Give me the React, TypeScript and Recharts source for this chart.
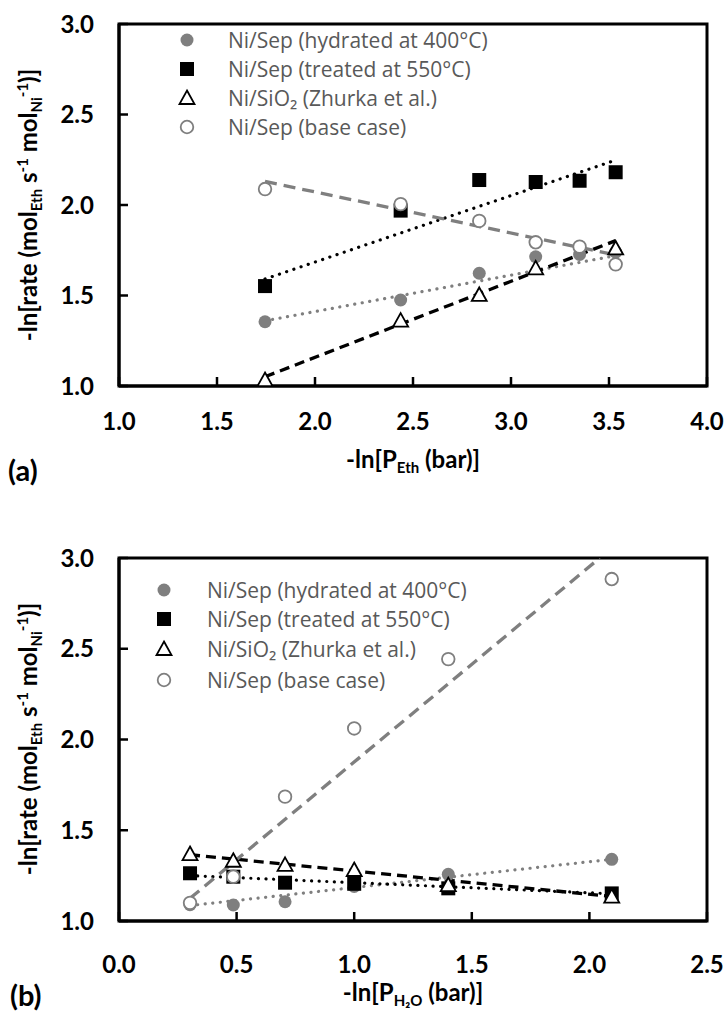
import React from 'react';
import { ComposedChart, Scatter, Line, XAxis, YAxis, ReferenceArea } from 'recharts';

const GRAY = '#7f7f7f';
const LEGEND_GRAY = '#595959';
const BOLD_FONT = 'Lato, "Open Sans", sans-serif';
const LEGEND_FONT = '"Open Sans", "Noto Sans", sans-serif';

const seriesNames = [
  'Ni/Sep (hydrated at 400°C)',
  'Ni/Sep (treated at 550°C)',
  'Ni/SiO₂ (Zhurka et al.)',
  'Ni/Sep (base case)',
];

const yTicks = [1.0, 1.5, 2.0, 2.5, 3.0];
const ethTicks = [1.0, 1.5, 2.0, 2.5, 3.0, 3.5, 4.0];
const waterTicks = [0.0, 0.5, 1.0, 1.5, 2.0, 2.5];

// ---------- Panel (a): -ln[P_Eth] ----------
const ethX = [1.745, 2.437, 2.838, 3.126, 3.35, 3.534];
const aHydrated = [1.355, 1.475, 1.623, 1.714, 1.727, 1.74];
const aTreated = [1.552, 1.969, 2.138, 2.127, 2.134, 2.181];
const aZhurkaX = [1.745, 2.437, 2.838, 3.126, 3.534];
const aZhurka = [1.033, 1.361, 1.503, 1.65, 1.76];
const aBase = [2.088, 2.005, 1.912, 1.794, 1.77, 1.672];
// trend line end points
const aTrendX = [1.745, 3.534];
const aHydratedTrend = [1.36, 1.72];
const aTreatedTrend = [1.591, 2.248];
const aZhurkaTrend = [1.051, 1.803];
const aBaseTrend = [2.13, 1.724];

// ---------- Panel (b): -ln[P_H2O] ----------
const waterX = [0.302, 0.486, 0.706, 1.0, 1.4, 2.095];
const bHydrated = [1.09, 1.088, 1.106, 1.19, 1.257, 1.34];
const bTreated = [1.263, 1.244, 1.211, 1.205, 1.18, 1.152];
const bZhurka = [1.369, 1.332, 1.309, 1.281, 1.198, 1.134];
const bBase = [1.1, 1.244, 1.685, 2.061, 2.443, 2.884];
const bTrendX = [0.302, 2.095];
const bHydratedTrend = [1.085, 1.34];
const bTreatedTrend = [1.25, 1.15];
const bZhurkaTrend = [1.365, 1.135];
const bBaseTrendX = [0.302, 2.044];
const bBaseTrend = [1.125, 3.0];

const zip = (xs: number[], ys: number[]) => xs.map((x, i) => ({ x, y: ys[i] }));

const GrayDot = (p: any) => <circle cx={p.cx} cy={p.cy} r={6.5} fill={GRAY} />;
const BlackSquare = (p: any) => (
  <rect x={p.cx - 7} y={p.cy - 7} width={14} height={14} fill="#000" />
);
const OpenTriangle = (p: any) => (
  <path
    d={`M${p.cx},${p.cy - 7.5} L${p.cx + 7.5},${p.cy + 6} L${p.cx - 7.5},${p.cy + 6} Z`}
    fill="#fff"
    stroke="#000"
    strokeWidth={1.8}
  />
);
const OpenCircle = (p: any) => (
  <circle cx={p.cx} cy={p.cy} r={6.3} fill="#fff" stroke={GRAY} strokeWidth={1.8} />
);
const markers = [GrayDot, BlackSquare, OpenTriangle, OpenCircle];

const TICK_FS = 24;
const TICK_LEN = 9;

// A negative tickSize makes the tick lines point into the plot; the tick
// text anchor then sits TICK_LEN inside, so the labels are shifted back out.
const XTick = (p: any) => {
  const { x, y, payload, labelDy } = p;
  return (
    <text
      x={x}
      y={y + TICK_LEN + labelDy}
      textAnchor="middle"
      fontFamily={BOLD_FONT}
      fontWeight={700}
      fontSize={TICK_FS}
      fill="#000"
    >
      {Number(payload.value).toFixed(1)}
    </text>
  );
};

const YTick = (p: any) => {
  const { x, y, payload } = p;
  return (
    <text
      x={x - TICK_LEN - 25}
      y={y + 8.5}
      textAnchor="end"
      fontFamily={BOLD_FONT}
      fontWeight={700}
      fontSize={TICK_FS}
      fill="#000"
    >
      {Number(payload.value).toFixed(1)}
    </text>
  );
};

type PanelProps = {
  top: number;
  height: number;
  plotTop: number;
  xAxisHeight: number;
  xDomain: [number, number];
  xTicks: number[];
  labelDy: number;
  points: { x: number; y: number }[][];
  trends: { x: number; y: number }[][];
};

const trendStyles = [
  { stroke: GRAY, strokeWidth: 3.2, strokeDasharray: '0.1 7.5', strokeLinecap: 'round' as const },
  { stroke: '#000', strokeWidth: 3.2, strokeDasharray: '0.1 7.5', strokeLinecap: 'round' as const },
  { stroke: '#000', strokeWidth: 3.3, strokeDasharray: '10 6', strokeLinecap: 'butt' as const },
  { stroke: GRAY, strokeWidth: 3.3, strokeDasharray: '12 7', strokeLinecap: 'butt' as const },
];

function Panel(props: PanelProps) {
  const { top, height, plotTop, xAxisHeight, xDomain, xTicks, labelDy, points, trends } = props;
  return (
    <div style={{ position: 'absolute', left: 0, top, width: 726, height }}>
      <ComposedChart
        width={726}
        height={height}
        margin={{ top: plotTop, right: 19, bottom: 0, left: 0 }}
      >
        <ReferenceArea
          x1={xDomain[0]}
          x2={xDomain[1]}
          y1={1}
          y2={3}
          fill="none"
          fillOpacity={0}
          stroke="#000"
          strokeWidth={3}
        />
        <XAxis
          type="number"
          dataKey="x"
          domain={xDomain}
          ticks={xTicks}
          interval={0}
          allowDataOverflow
          height={xAxisHeight}
          tickLine={{ stroke: '#000', strokeWidth: 2.5 }}
          tickSize={-TICK_LEN}
          tickMargin={0}
          axisLine={{ stroke: '#000', strokeWidth: 3 }}
          tick={(p: any) => <XTick {...p} labelDy={labelDy} />}
        />
        <YAxis
          type="number"
          dataKey="y"
          domain={[1, 3]}
          ticks={yTicks}
          interval={0}
          allowDataOverflow
          width={119}
          tickLine={{ stroke: '#000', strokeWidth: 2.5 }}
          tickSize={-TICK_LEN}
          tickMargin={0}
          axisLine={{ stroke: '#000', strokeWidth: 3 }}
          tick={(p: any) => <YTick {...p} />}
        />
        {points.map((pts, i) => (
          <Scatter
            key={`s${i}`}
            data={pts}
            shape={markers[i]}
            isAnimationActive={false}
            legendType="none"
          />
        ))}
        {trends.map((t, i) => (
          <Line
            key={`l${i}`}
            data={t}
            dataKey="y"
            type="linear"
            dot={false}
            activeDot={false}
            isAnimationActive={false}
            legendType="none"
            {...trendStyles[i]}
          />
        ))}
      </ComposedChart>
    </div>
  );
}

function YTitle({ cx, cy }: { cx: number; cy: number }) {
  return (
    <text
      transform={`rotate(-90 ${cx} ${cy})`}
      x={cx}
      y={cy + 8.5}
      textAnchor="middle"
      fontFamily={BOLD_FONT}
      fontWeight={700}
      fontSize={24}
      fill="#000"
    >
      -ln[rate (mol
      <tspan dy={5} fontSize={15}>Eth</tspan>
      <tspan dy={-5}> s</tspan>
      <tspan dy={-9} fontSize={15}>-1</tspan>
      <tspan dy={9}> mol</tspan>
      <tspan dy={5} fontSize={15}>Ni</tspan>
      <tspan dy={-14} fontSize={15}>-1</tspan>
      <tspan dy={9}>)]</tspan>
    </text>
  );
}

function LegendBlock({ mx, tx, rows }: { mx: number; tx: number; rows: number[] }) {
  return (
    <g>
      {rows.map((ry, i) => {
        const M = markers[i];
        return (
          <g key={i}>
            <M cx={mx} cy={ry} />
            <text
              x={tx}
              y={ry + 7.5}
              fontFamily={LEGEND_FONT}
              fontSize={21}
              fill={LEGEND_GRAY}
            >
              {seriesNames[i]}
            </text>
          </g>
        );
      })}
    </g>
  );
}

function Overlay() {
  const boldText = { fontFamily: BOLD_FONT, fontWeight: 700, fill: '#000' };
  return (
    <svg
      width={726}
      height={1012}
      style={{ position: 'absolute', left: 0, top: 0, pointerEvents: 'none' }}
    >
      <YTitle cx={28} cy={205} />
      <YTitle cx={28} cy={739} />
      <text x={413} y={468} textAnchor="middle" fontSize={24} {...boldText}>
        -ln[P
        <tspan dy={5} fontSize={15}>Eth</tspan>
        <tspan dy={-5}> (bar)]</tspan>
      </text>
      <text x={413} y={1001} textAnchor="middle" fontSize={24} {...boldText}>
        -ln[P
        <tspan dy={5} fontSize={15}>H₂O</tspan>
        <tspan dy={-5}> (bar)]</tspan>
      </text>
      <text x={8} y={481} fontSize={29} {...boldText}>(a)</text>
      <text x={10} y={1006} fontSize={29} {...boldText}>(b)</text>
      <LegendBlock mx={187} tx={228} rows={[40, 69, 98, 127]} />
      <LegendBlock mx={164} tx={207} rows={[590, 619, 649, 680]} />
    </svg>
  );
}

export default function App() {
  const aPoints = [
    zip(ethX, aHydrated),
    zip(ethX, aTreated),
    zip(aZhurkaX, aZhurka),
    zip(ethX, aBase),
  ];
  const aTrends = [
    zip(aTrendX, aHydratedTrend),
    zip(aTrendX, aTreatedTrend),
    zip(aTrendX, aZhurkaTrend),
    zip(aTrendX, aBaseTrend),
  ];
  const bPoints = [
    zip(waterX, bHydrated),
    zip(waterX, bTreated),
    zip(waterX, bZhurka),
    zip(waterX, bBase),
  ];
  const bTrends = [
    zip(bTrendX, bHydratedTrend),
    zip(bTrendX, bTreatedTrend),
    zip(bTrendX, bZhurkaTrend),
    zip(bBaseTrendX, bBaseTrend),
  ];
  return (
    <div
      style={{
        position: 'absolute',
        left: 0,
        top: 0,
        width: 726,
        height: 1012,
        background: '#fff',
        overflow: 'hidden',
      }}
    >
      <Panel
        top={0}
        height={500}
        plotTop={24}
        xAxisHeight={114}
        xDomain={[1, 4]}
        xTicks={ethTicks}
        labelDy={44}
        points={aPoints}
        trends={aTrends}
      />
      <Panel
        top={500}
        height={512}
        plotTop={58}
        xAxisHeight={91}
        xDomain={[0, 2.5]}
        xTicks={waterTicks}
        labelDy={52}
        points={bPoints}
        trends={bTrends}
      />
      <Overlay />
    </div>
  );
}
